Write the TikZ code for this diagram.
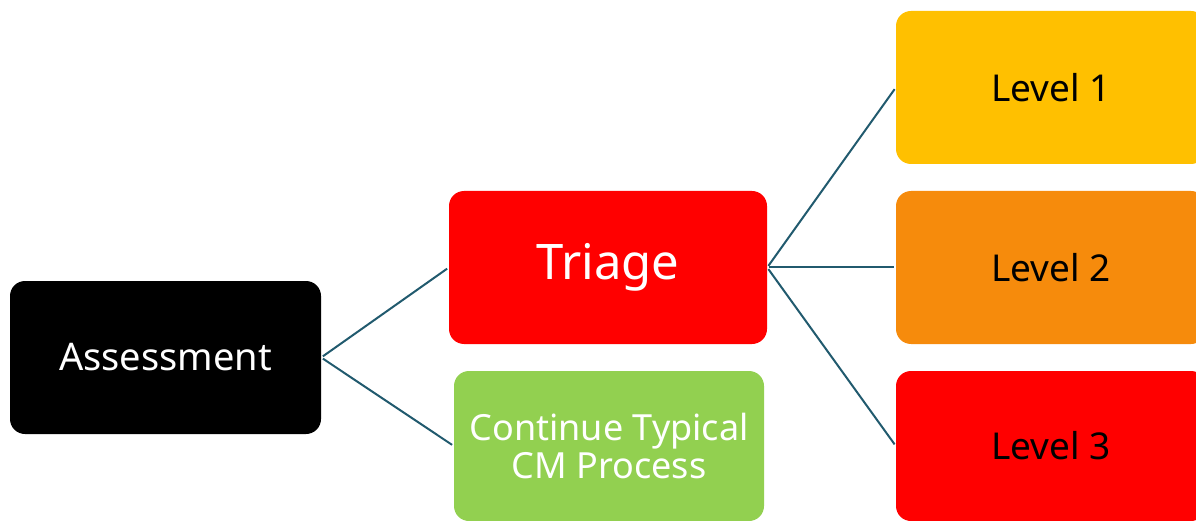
\documentclass[tikz,border=0pt]{standalone}
\usepackage{fontspec}
\setmainfont{Noto Sans}
\definecolor{linec}{HTML}{215A6E}
\definecolor{lvlone}{HTML}{FFC000}
\definecolor{lvltwo}{HTML}{F68B0C}
\definecolor{redc}{HTML}{FF0000}
\definecolor{greenc}{HTML}{92D050}
\tikzset{
  box/.style={rounded corners=15pt, inner sep=0pt, align=center},
  conn/.style={draw=linec, line width=2pt, shorten <=2pt, shorten >=2pt},
}
\begin{document}
\begin{tikzpicture}[x=1pt,y=-1pt]
\useasboundingbox (0,0) rectangle (1196,521);
\clip (0,0) rectangle (1196,521);
\node[box, fill=black, text=white, minimum width=311pt, minimum height=153pt, font=\fontsize{38}{46}\selectfont] (ass) at (165.5,357.5) {Assessment};
\node[box, fill=redc, text=white, minimum width=318pt, minimum height=153pt, font=\fontsize{49}{58}\selectfont] (tri) at (608,267.5) {Triage};
\node[box, fill=greenc, text=white, minimum width=310pt, minimum height=150pt, font=\fontsize{36}{38}\selectfont] (cont) at (609,446) {Continue Typical\\CM Process};
\node[box, fill=lvlone, text=black, minimum width=310pt, minimum height=153pt, font=\fontsize{37}{46}\selectfont] (l1) at (1051,87.5) {Level 1};
\node[box, fill=lvltwo, text=black, minimum width=310pt, minimum height=153pt, font=\fontsize{37}{46}\selectfont] (l2) at (1051,267.5) {Level 2};
\node[box, fill=redc, text=black, minimum width=310pt, minimum height=150pt, font=\fontsize{37}{46}\selectfont] (l3) at (1051,446) {Level 3};
\draw[conn] (ass.east) -- (tri.west);
\draw[conn] (ass.east) -- (cont.west);
\draw[conn] (tri.east) -- (l1.west);
\draw[conn] (tri.east) -- (l2.west);
\draw[conn] (tri.east) -- (l3.west);
\end{tikzpicture}
\end{document}
